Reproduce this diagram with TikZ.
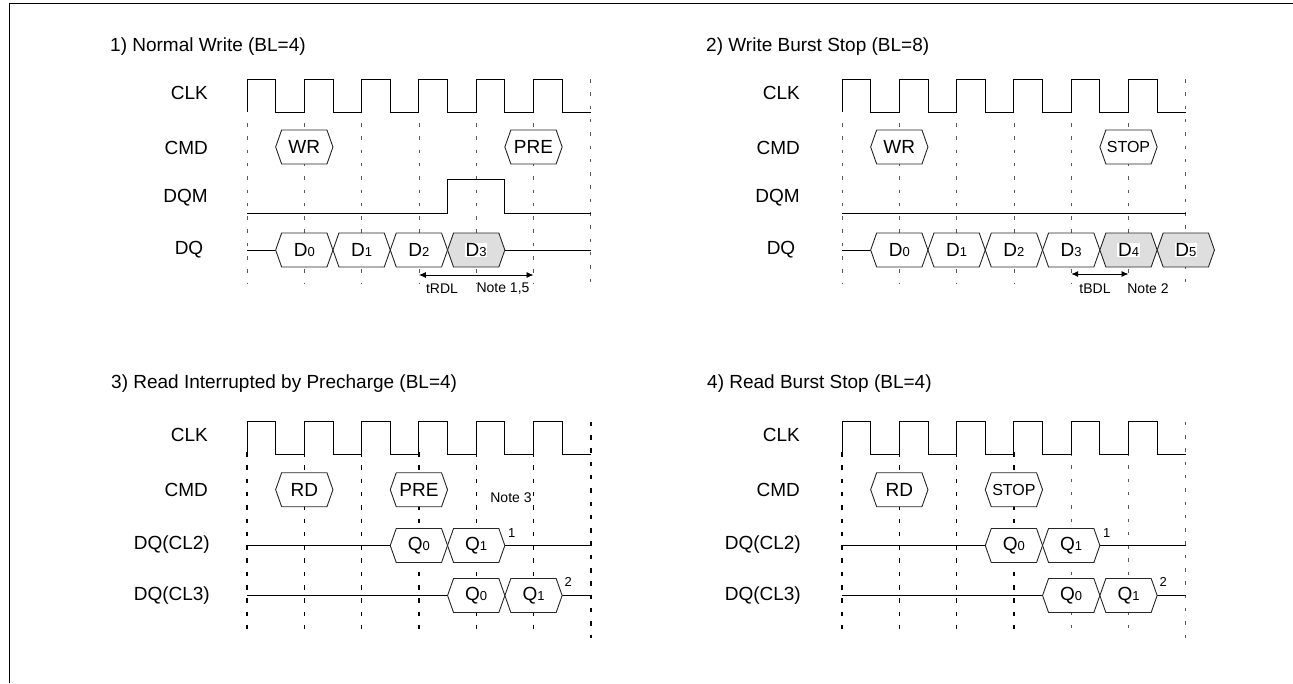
\documentclass[tikz,border=0pt]{standalone}
\usepackage{fontspec}
\setmainfont{Liberation Sans}
\usetikzlibrary{arrows.meta}
\def\pp{57.3}
\newcommand\hx[3]{% cx, cy, fill
  \filldraw[hexline, fill=#3] ({#1-\pp/2},#2) -- ({#1-\pp/2+6},{#2-17}) -- ({#1+\pp/2-6},{#2-17}) -- ({#1+\pp/2},#2) -- ({#1+\pp/2-6},{#2+17}) -- ({#1-\pp/2+6},{#2+17}) -- cycle;}
\newcommand\clkwave[3]{% x0, yhigh, ylow
  \draw[sig] (#1,#3) \foreach \k in {0,...,5} { -- ({#1+\k*\pp},#3) -- ({#1+\k*\pp},#2) -- ({#1+\k*\pp+\pp/2},#2) -- ({#1+\k*\pp+\pp/2},#3) } -- ({#1+6*\pp},#3);}
\newcommand\dig[1]{{\fontsize{13}{13}\selectfont #1}}
\begin{document}
\begin{tikzpicture}[x=1pt,y=-1pt,
  sig/.style={line width=0.9pt, black},
  gridt/.style={line width=0.8pt, black!65, dash pattern=on 3.5pt off 9.8pt},
  gridb/.style={line width=1.4pt, black, dash pattern=on 4.5pt off 8.8pt},
  lbl/.style={font=\fontsize{19}{21}\selectfont, inner sep=0pt},
  ttl/.style={font=\fontsize{19}{21}\selectfont, anchor=west, inner sep=0pt},
  htxt/.style={font=\fontsize{19}{21}\selectfont, inner sep=0.6pt},
  small/.style={font=\fontsize{14}{16}\selectfont, inner sep=0pt},
  sup/.style={font=\fontsize{13}{14}\selectfont, inner sep=0pt},
  hexline/.style={line width=0.9pt, draw=black!85},
  dbl/.style={line width=0.9pt, {Latex[length=7pt,width=6pt]}-{Latex[length=7pt,width=6pt]}},
]
\useasboundingbox (0,0) rectangle (1293,683);
% frame
\draw[line width=1.5pt] (9.3,683) -- (9.3,3.3) -- (1293,3.3);

% ================= Panel 1 =================
\node[ttl] (t1) at (110,47) {1) Normal Write (BL=4)};
\node[lbl, anchor=east] (p1clk) at (208,93) {CLK};
\node[lbl, anchor=east] (p1cmd) at (208,148) {CMD};
\node[lbl, anchor=east] (p1dqm) at (208,198) {DQM};
\node[lbl] (p1dq) at (189,250) {DQ};
\foreach \k in {0,...,5} \draw[gridt] ({247+\k*\pp},123) -- ({247+\k*\pp},284);
\draw[gridt] ({247+6*\pp},79) -- ({247+6*\pp},284);
\clkwave{247}{79}{112}
% CMD
\hx{247+\pp}{147}{white}
\node[htxt] (p1wr) at ({247+\pp},147) {WR};
\hx{247+5*\pp}{147}{white}
\node[htxt] (p1pre) at ({247+5*\pp},147) {PRE};
% DQM
\draw[sig] (247,213) -- ({247+3.5*\pp},213) -- ({247+3.5*\pp},179) -- ({247+4.5*\pp},179) -- ({247+4.5*\pp},213) -- ({247+6*\pp},213);
% DQ
\draw[sig] (247,250) -- ({247+0.5*\pp},250);
\draw[sig] ({247+4.5*\pp},250) -- ({247+6*\pp},250);
\hx{247+1*\pp}{250}{white}
\node[htxt] (p1d0) at ({247+1*\pp},250) {D\dig{0}};
\hx{247+2*\pp}{250}{white}
\node[htxt] (p1d1) at ({247+2*\pp},250) {D\dig{1}};
\hx{247+3*\pp}{250}{white}
\node[htxt] (p1d2) at ({247+3*\pp},250) {D\dig{2}};
\hx{247+4*\pp}{250}{black!13}
\node[htxt, fill=white] (p1d3) at ({247+4*\pp},250) {D\dig{3}};
\coordinate (p1a) at ({247+3*\pp},275);
\coordinate (p1b) at ({247+5*\pp},275);
\draw[dbl] (p1a) -- (p1b);
\node[small] (p1trdl) at (442,289) {tRDL};
\node[small] (p1note) at (503,289) {Note 1,5};

% ================= Panel 2 =================
\node[ttl] (t2) at (706,47) {2) Write Burst Stop (BL=8)};
\node[lbl, anchor=east] (p2clk) at (800,93) {CLK};
\node[lbl, anchor=east] (p2cmd) at (800,148) {CMD};
\node[lbl, anchor=east] (p2dqm) at (800,198) {DQM};
\node[lbl] (p2dq) at (781,250) {DQ};
\foreach \k in {0,...,5} \draw[gridt] ({842+\k*\pp},123) -- ({842+\k*\pp},284);
\draw[gridt] ({842+6*\pp},79) -- ({842+6*\pp},284);
\clkwave{842}{79}{112}
\hx{842+\pp}{147}{white}
\node[htxt] (p2wr) at ({842+\pp},147) {WR};
\hx{842+5*\pp}{147}{white}
\node[htxt, font=\fontsize{16}{18}\selectfont] (p2stop) at ({842+5*\pp},147) {STOP};
\draw[sig] (842,213) -- ({842+6*\pp},213);
\draw[sig] (842,250) -- ({842+0.5*\pp},250);
\hx{842+1*\pp}{250}{white}
\node[htxt] (p2d0) at ({842+1*\pp},250) {D\dig{0}};
\hx{842+2*\pp}{250}{white}
\node[htxt] (p2d1) at ({842+2*\pp},250) {D\dig{1}};
\hx{842+3*\pp}{250}{white}
\node[htxt] (p2d2) at ({842+3*\pp},250) {D\dig{2}};
\hx{842+4*\pp}{250}{white}
\node[htxt] (p2d3) at ({842+4*\pp},250) {D\dig{3}};
\hx{842+5*\pp}{250}{black!13}
\node[htxt, fill=white] (p2d4) at ({842+5*\pp},250) {D\dig{4}};
\hx{842+6*\pp}{250}{black!13}
\node[htxt, fill=white] (p2d5) at ({842+6*\pp},250) {D\dig{5}};
\coordinate (p2a) at ({842+4*\pp},274);
\coordinate (p2b) at ({842+5*\pp},274);
\draw[dbl] (p2a) -- (p2b);
\node[small] (p2tbdl) at (1095,289) {tBDL};
\node[small] (p2note) at (1148,289) {Note 2};

% ================= Panel 3 =================
\node[ttl] (t3) at (111,384) {3) Read Interrupted by Precharge (BL=4)};
\node[lbl, anchor=east] (p3clk) at (208,435) {CLK};
\node[lbl, anchor=east] (p3cmd) at (208,490) {CMD};
\node[lbl, anchor=east] (p3cl2) at (210,545) {DQ(CL2)};
\node[lbl, anchor=east] (p3cl3) at (210,596) {DQ(CL3)};
\foreach \k in {0,...,5} \draw[gridb] ({247+\k*\pp},452) -- ({247+\k*\pp},638);
\draw[gridb] ({247+6*\pp},421.7) -- ({247+6*\pp},638);
\clkwave{247}{421.7}{454.5}
\hx{247+\pp}{489.7}{white}
\node[htxt] (p3rd) at ({247+\pp},489.7) {RD};
\hx{247+3*\pp}{489.7}{white}
\node[htxt] (p3pre) at ({247+3*\pp},489.7) {PRE};
\node[small] (p3note) at (511,498) {Note 3};
% CL2
\draw[sig] (247,545.5) -- ({247+2.5*\pp},545.5);
\draw[sig] ({247+4.5*\pp},545.5) -- ({247+6*\pp},545.5);
\hx{247+3*\pp}{545.5}{white}
\node[htxt] (p3q0a) at ({247+3*\pp},545.5) {Q\dig{0}};
\hx{247+4*\pp}{545.5}{white}
\node[htxt] (p3q1a) at ({247+4*\pp},545.5) {Q\dig{1}};
\node[sup] (p3s1) at ({247+4.5*\pp+7},532.7) {1};
% CL3
\draw[sig] (247,595.5) -- ({247+3.5*\pp},595.5);
\draw[sig] ({247+5.5*\pp},595.5) -- ({247+6*\pp},595.5);
\hx{247+4*\pp}{595.5}{white}
\node[htxt] (p3q0b) at ({247+4*\pp},595.5) {Q\dig{0}};
\hx{247+5*\pp}{595.5}{white}
\node[htxt] (p3q1b) at ({247+5*\pp},595.5) {Q\dig{1}};
\node[sup] (p3s2) at ({247+5.5*\pp+6},582.3) {2};

% ================= Panel 4 =================
\node[ttl] (t4) at (707,384) {4) Read Burst Stop (BL=4)};
\node[lbl, anchor=east] (p4clk) at (800,435) {CLK};
\node[lbl, anchor=east] (p4cmd) at (800,490) {CMD};
\node[lbl, anchor=east] (p4cl2) at (801,545) {DQ(CL2)};
\node[lbl, anchor=east] (p4cl3) at (801,596) {DQ(CL3)};
\foreach \k in {0,...,3} \draw[gridb] ({842+\k*\pp},452) -- ({842+\k*\pp},638);
\foreach \k in {4,5} \draw[gridt, line width=1.1pt] ({842+\k*\pp},452) -- ({842+\k*\pp},638);
\draw[gridt] ({842+6*\pp},421.7) -- ({842+6*\pp},638);
\clkwave{842}{421.7}{454.5}
\hx{842+\pp}{489.7}{white}
\node[htxt] (p4rd) at ({842+\pp},489.7) {RD};
\hx{842+3*\pp}{489.7}{white}
\node[htxt, font=\fontsize{16}{18}\selectfont] (p4stop) at ({842+3*\pp},489.7) {STOP};
% CL2
\draw[sig] (842,545.5) -- ({842+2.5*\pp},545.5);
\draw[sig] ({842+4.5*\pp},545.5) -- ({842+6*\pp},545.5);
\hx{842+3*\pp}{545.5}{white}
\node[htxt] (p4q0a) at ({842+3*\pp},545.5) {Q\dig{0}};
\hx{842+4*\pp}{545.5}{white}
\node[htxt] (p4q1a) at ({842+4*\pp},545.5) {Q\dig{1}};
\node[sup] (p4s1) at ({842+4.5*\pp+7},532.7) {1};
% CL3
\draw[sig] (842,595.5) -- ({842+3.5*\pp},595.5);
\draw[sig] ({842+5.5*\pp},595.5) -- ({842+6*\pp},595.5);
\hx{842+4*\pp}{595.5}{white}
\node[htxt] (p4q0b) at ({842+4*\pp},595.5) {Q\dig{0}};
\hx{842+5*\pp}{595.5}{white}
\node[htxt] (p4q1b) at ({842+5*\pp},595.5) {Q\dig{1}};
\node[sup] (p4s2) at ({842+5.5*\pp+6},582.3) {2};
\end{tikzpicture}
\end{document}
